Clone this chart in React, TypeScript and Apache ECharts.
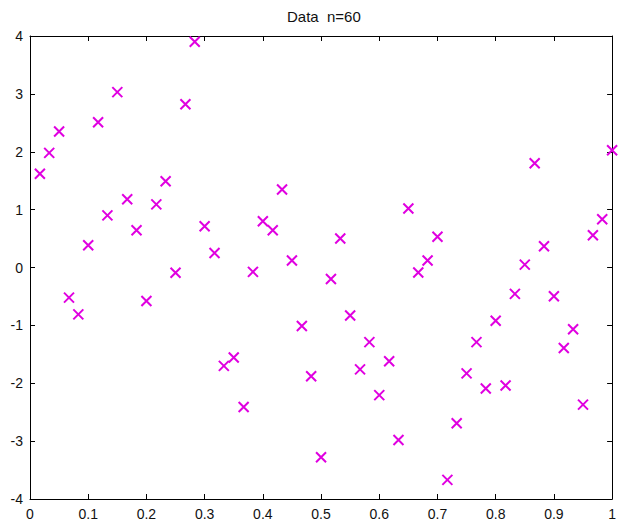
import React, { useEffect, useRef } from "react";
import * as echarts from "echarts";

const titleText = "Data  n=60";

const xValues = [
  0.017, 0.033, 0.05, 0.067, 0.083, 0.1, 0.117, 0.133, 0.15, 0.167,
  0.183, 0.2, 0.217, 0.233, 0.25, 0.267, 0.283, 0.3, 0.317, 0.333,
  0.35, 0.367, 0.383, 0.4, 0.417, 0.433, 0.45, 0.467, 0.483, 0.5,
  0.517, 0.533, 0.55, 0.567, 0.583, 0.6, 0.617, 0.633, 0.65, 0.667,
  0.683, 0.7, 0.717, 0.733, 0.75, 0.767, 0.783, 0.8, 0.817, 0.833,
  0.85, 0.867, 0.883, 0.9, 0.917, 0.933, 0.95, 0.967, 0.983, 1.0,
];

const yValues = [
  1.62, 1.98, 2.35, -0.52, -0.81, 0.385, 2.51, 0.9, 3.03, 1.18,
  0.644, -0.58, 1.09, 1.49, -0.09, 2.82, 3.9, 0.713, 0.25, -1.7,
  -1.555, -2.41, -0.075, 0.8, 0.644, 1.347, 0.12, -1.01, -1.88, -3.28,
  -0.2, 0.5, -0.83, -1.76, -1.29, -2.205, -1.62, -2.98, 1.02, -0.086,
  0.12, 0.53, -3.67, -2.69, -1.83, -1.29, -2.09, -0.92, -2.04, -0.455,
  0.05, 1.8, 0.368, -0.496, -1.39, -1.066, -2.37, 0.558, 0.834, 2.026,
];

const xTicks = { min: 0, max: 1, interval: 0.1 };
const yTicks = { min: -4, max: 4, interval: 1 };

const markerColor = "#e000e0";
const font = "'Liberation Sans', Arial, sans-serif";

export default function App() {
  const ref = useRef<HTMLDivElement>(null);
  useEffect(() => {
    if (!ref.current) return;
    const chart = echarts.init(ref.current, null, { renderer: "svg" });
    const points = xValues.map((x, i) => [x, yValues[i]]);
    const axisLine = { show: true, onZero: false, lineStyle: { color: "#000", width: 1 } };
    const axisTick = { show: true, inside: true, length: 5, lineStyle: { color: "#000", width: 1 } };
    chart.setOption({
      animation: false,
      backgroundColor: "#ffffff",
      title: {
        text: titleText,
        left: 282,
        top: 4,
        textStyle: { fontFamily: font, fontSize: 15, fontWeight: "normal", color: "#111" },
      },
      grid: { left: 30, right: 2, top: 36, bottom: 27, containLabel: false },
      xAxis: [
        {
          type: "value",
          ...xTicks,
          position: "bottom",
          axisLine,
          axisTick,
          splitLine: { show: false },
          axisLabel: { show: true, margin: 8, fontFamily: font, fontSize: 14, color: "#111" },
        },
        {
          type: "value",
          ...xTicks,
          position: "top",
          axisLine,
          axisTick,
          splitLine: { show: false },
          axisLabel: { show: false },
        },
      ],
      yAxis: [
        {
          type: "value",
          ...yTicks,
          position: "left",
          axisLine,
          axisTick,
          splitLine: { show: false },
          axisLabel: { show: true, margin: 7, fontFamily: font, fontSize: 14, color: "#111" },
        },
        {
          type: "value",
          ...yTicks,
          position: "right",
          axisLine,
          axisTick,
          splitLine: { show: false },
          axisLabel: { show: false },
        },
      ],
      series: [
        {
          type: "scatter",
          xAxisIndex: 0,
          yAxisIndex: 0,
          data: points,
          symbol: "path://M0 0L10 10M10 0L0 10",
          symbolSize: 10,
          clip: false,
          itemStyle: { color: "transparent", borderColor: markerColor, borderWidth: 2, opacity: 1 },
        },
      ],
    });
    return () => chart.dispose();
  }, []);
  return (
    <div
      ref={ref}
      style={{ position: "fixed", left: 0, top: 0, width: 619, height: 526, background: "#fff" }}
    />
  );
}
